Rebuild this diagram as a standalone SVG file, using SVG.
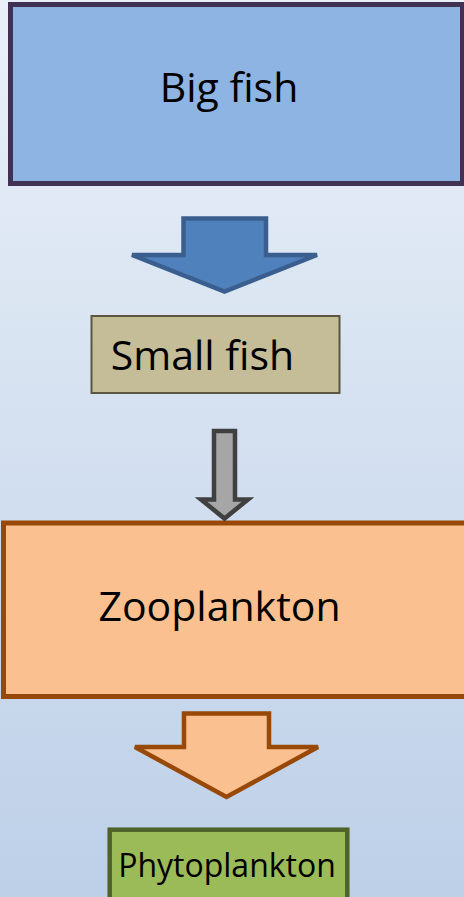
<svg xmlns="http://www.w3.org/2000/svg" width="464" height="897" viewBox="0 0 464 897">
  <defs>
    <linearGradient id="bg" x1="0" y1="0" x2="0" y2="1">
      <stop offset="0" stop-color="#EAF0F8"/>
      <stop offset="1" stop-color="#BDD0E8"/>
    </linearGradient>
    <style>
      .label { font-family: "Open Sans", "Liberation Sans", sans-serif; fill: #000; text-anchor: middle; }
      .big { font-size: 41px; }
      .small { font-size: 32px; }
      .arrow { stroke-linejoin: miter; stroke-width: 4.5; }
    </style>
  </defs>

  <!-- backdrop -->
  <rect x="0" y="0" width="464" height="897" fill="url(#bg)"/>

  <!-- trophic levels -->
  <g id="big-fish">
    <rect x="10.5" y="4.5" width="452" height="179" fill="#8EB4E3" stroke="#413152" stroke-width="5"/>
    <text class="label big" x="229" y="101.5">Big fish</text>
  </g>

  <g id="small-fish">
    <rect x="91.5" y="316" width="248" height="77" fill="#C4BD97" stroke="#5C5540" stroke-width="2"/>
    <text class="label big" x="202.5" y="370">Small fish</text>
  </g>

  <g id="zooplankton">
    <rect x="3.5" y="523" width="470" height="173.5" fill="#FAC090" stroke="#984807" stroke-width="5"/>
    <text class="label big" x="219.5" y="621">Zooplankton</text>
  </g>

  <g id="phytoplankton">
    <rect x="109.7" y="829.7" width="237.6" height="80" fill="#9BBB59" stroke="#4F6228" stroke-width="4.5"/>
    <text class="label small" x="227" y="876.5">Phytoplankton</text>
  </g>

  <!-- block arrows between levels -->
  <g id="connectors">
    <path class="arrow" fill="#4F81BD" stroke="#3A5F8F"
          d="M183.5,218.5 H266 V255 H317 L224.5,291.5 L132,255 H183.5 Z"/>
    <path class="arrow" fill="#A6A6A6" stroke="#404040"
          d="M214,431 H235 V499.5 H248 L224.5,518.5 L201,499.5 H214 Z"/>
    <path class="arrow" fill="#FAC090" stroke="#984807"
          d="M184,713.5 H269 V747 H318 L226.5,797 L135,747 H184 Z"/>
  </g>
</svg>
